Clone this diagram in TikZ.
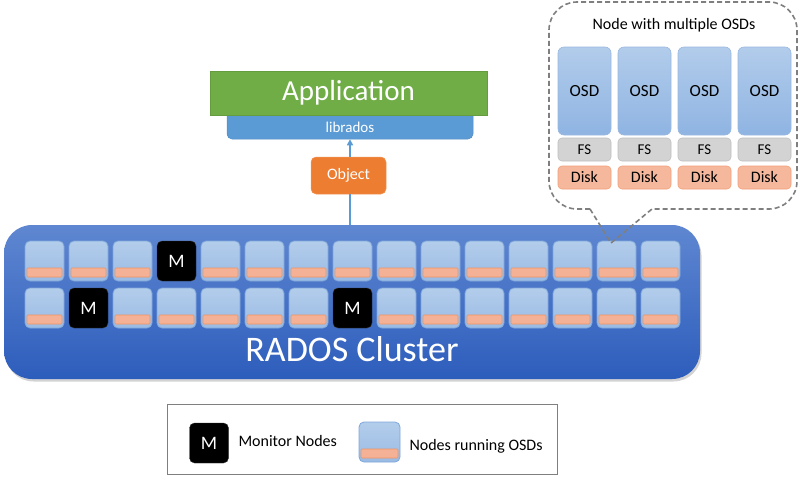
\documentclass[tikz,border=0pt]{standalone}
\usepackage{fontspec}
\setmainfont{Carlito}
\usetikzlibrary{arrows.meta,shadows}
\definecolor{clTop}{HTML}{5F87D1}
\definecolor{clBot}{HTML}{2D5DBC}
\definecolor{ndTop}{HTML}{B3CDEB}
\definecolor{ndBot}{HTML}{9ABBE4}
\definecolor{ndLine}{HTML}{7FA6DA}
\definecolor{barFill}{HTML}{F5B196}
\definecolor{barLine}{HTML}{F0935F}
\definecolor{appGreen}{HTML}{70AD47}
\definecolor{libBlue}{HTML}{5B9BD5}
\definecolor{objOrange}{HTML}{ED7D31}
\definecolor{calloutGrey}{HTML}{7F7F7F}
\definecolor{osdTop}{HTML}{B2CCEB}
\definecolor{osdBot}{HTML}{8FB4E2}
\definecolor{fsGrey}{HTML}{D3D3D3}
\definecolor{fsLine}{HTML}{BFBFBF}
\definecolor{diskFill}{HTML}{F6B89C}
\definecolor{diskLine}{HTML}{F2A07A}
\newcommand{\fsz}[1]{\fontsize{#1}{#1}\selectfont}
\tikzset{
  osdnode/.style={rectangle, rounded corners=5pt, minimum width=39pt, minimum height=40pt,
    inner sep=0pt, top color=ndTop, bottom color=ndBot, draw=ndLine, line width=0.8pt,
    path picture={\fill[barFill, draw=barLine, line width=0.6pt, rounded corners=1pt]
      ([xshift=2pt,yshift=4pt]path picture bounding box.south west) rectangle
      ([xshift=-2pt,yshift=13pt]path picture bounding box.south east);}},
  monnode/.style={rectangle, rounded corners=5pt, minimum width=39pt, minimum height=40pt,
    inner sep=0pt, fill=black, draw=black!80, text=white, font=\fsz{19}},
  osdbig/.style={rectangle, rounded corners=6pt, minimum width=53pt, minimum height=88pt,
    inner sep=0pt, top color=osdTop, bottom color=osdBot, draw=ndLine!80, line width=0.6pt, font=\fsz{17}},
  fsbox/.style={rectangle, rounded corners=4pt, minimum width=53pt, minimum height=23pt,
    inner sep=0pt, fill=fsGrey, draw=fsLine, line width=0.6pt, font=\fsz{15}},
  diskbox/.style={rectangle, rounded corners=4pt, minimum width=53pt, minimum height=23pt,
    inner sep=0pt, fill=diskFill, draw=diskLine, line width=0.6pt, font=\fsz{16}},
  callout/.style={draw=calloutGrey, line width=1.6pt, dash pattern=on 5pt off 3pt},
  link/.style={draw=libBlue, line width=1.6pt}
}
\begin{document}
\begin{tikzpicture}[x=1pt,y=-1pt]
\useasboundingbox (0,0) rectangle (800,479);
% cluster
\path[rounded corners=28pt, top color=clTop, bottom color=clBot,
  drop shadow={opacity=0.35, shadow xshift=1.5pt, shadow yshift=-2.5pt}]
  (4,225) rectangle (700,379);
\coordinate (cltop) at (350,225);
% nodes
\foreach \i in {0,...,14}{
  \pgfmathsetmacro{\cx}{44.5+44*\i}
  \ifnum\i=3
    \node[monnode] (a\i) at (\cx,261) {M};
  \else
    \node[osdnode] (a\i) at (\cx,261) {};
  \fi
  \ifnum\i=1
    \node[monnode] (b\i) at (\cx,308) {M};
  \else\ifnum\i=7
    \node[monnode] (b\i) at (\cx,308) {M};
  \else
    \node[osdnode] (b\i) at (\cx,308) {};
  \fi\fi
}
\node[text=white, font=\fsz{36}] (rados) at (352,349) {RADOS Cluster};
% application stack
\node[rectangle, rounded corners=5pt, minimum width=246pt, minimum height=30pt, inner sep=0pt,
  fill=libBlue, draw=libBlue!90!black, line width=0.5pt] (lib) at (350,124) {};
\node[rectangle, minimum width=277pt, minimum height=44pt, inner sep=0pt,
  fill=appGreen, draw=appGreen!90!black, line width=0.5pt, text=white, font=\fsz{29}] (app) at (348.5,93) {Application};
\node[text=white, font=\fsz{15}] (libt) at (350,127) {librados};
\node[rectangle, rounded corners=5pt, minimum width=75pt, minimum height=37pt, inner sep=0pt,
  fill=objOrange, draw=objOrange!80!white, line width=0.5pt, text=white, font=\fsz{16}] (obj) at (348.5,175.5) {Object};
\draw[link] (cltop) -- (cltop |- obj.south);
\draw[link, -{Triangle[length=6pt,width=6pt]}] (cltop |- obj.north) -- (cltop |- lib.south);
% callout
\draw[callout, rounded corners=28pt] (590,209) -- (549,209) -- (549,2) -- (797,2) -- (797,209) -- (652,209);
\draw[callout, line join=miter] (590,209) -- (611,243) -- (652,209);
\node[font=\fsz{16}] (ctitle) at (674,25) {Node with multiple OSDs};
\foreach \j in {0,...,3}{
  \pgfmathsetmacro{\ox}{584.5+60*\j}
  \node[osdbig] (osd\j) at (\ox,91) {OSD};
  \node[fsbox] (fs\j) at (\ox,149.5) {FS};
  \node[diskbox] (disk\j) at (\ox,177.5) {Disk};
}
% legend
\node[rectangle, draw=calloutGrey, line width=1pt, minimum width=390pt, minimum height=70pt, inner sep=0pt] (legend) at (362,439) {};
\node[monnode] (lm) at (209,443) {M};
\node[anchor=west, font=\fsz{16}] (lmt) at (235,441) {Monitor Nodes};
\node[osdnode, minimum width=41pt] (lo) at (379.5,442) {};
\node[anchor=west, font=\fsz{16}] (lot) at (406,446) {Nodes running OSDs};
\end{tikzpicture}
\end{document}
